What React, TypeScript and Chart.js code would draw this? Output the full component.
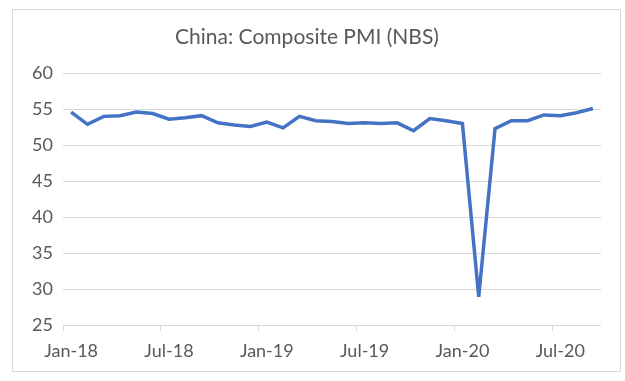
import React, { useEffect, useRef } from "react";
import { Chart, registerables } from "chart.js";

Chart.register(...registerables);

const months = [
  "Jan-18","Feb-18","Mar-18","Apr-18","May-18","Jun-18","Jul-18","Aug-18","Sep-18","Oct-18","Nov-18","Dec-18",
  "Jan-19","Feb-19","Mar-19","Apr-19","May-19","Jun-19","Jul-19","Aug-19","Sep-19","Oct-19","Nov-19","Dec-19",
  "Jan-20","Feb-20","Mar-20","Apr-20","May-20","Jun-20","Jul-20","Aug-20","Sep-20",
];
const compositePMI = [
  54.6, 52.9, 54.0, 54.1, 54.6, 54.4, 53.6, 53.8, 54.1, 53.1, 52.8, 52.6,
  53.2, 52.4, 54.0, 53.4, 53.3, 53.0, 53.1, 53.0, 53.1, 52.0, 53.7, 53.4,
  53.0, 28.9, 52.3, 53.4, 53.4, 54.2, 54.1, 54.5, 55.1,
];
const yTicks = [25, 30, 35, 40, 45, 50, 55, 60];
const titleText = "China: Composite PMI (NBS)";

export default function App() {
  const ref = useRef<HTMLCanvasElement>(null);
  useEffect(() => {
    if (!ref.current) return;
    const fontFamily = "Lato, 'Open Sans', sans-serif";
    const chart = new Chart(ref.current, {
      type: "line",
      data: {
        labels: months,
        datasets: [
          {
            data: compositePMI,
            borderColor: "#4472C4",
            borderWidth: 3.5,
            pointRadius: 0,
            tension: 0,
            fill: false,
          },
        ],
      },
      options: {
        responsive: false,
        animation: false,
        layout: { padding: { left: 0, right: 19, top: 0, bottom: 0 } },
        plugins: {
          legend: { display: false },
          tooltip: { enabled: false },
          title: {
            display: true,
            text: titleText,
            color: "#595959",
            font: { family: fontFamily, size: 21, weight: "normal" },
            padding: { top: 15, bottom: 23 },
          },
        },
        scales: {
          x: {
            offset: true,
            grid: {
              offset: true,
              drawOnChartArea: false,
              drawTicks: true,
              tickLength: 6,
              color: (ctx: any) => (ctx.index !== undefined && ctx.index % 6 === 0 && ctx.index < months.length ? "#d9d9d9" : "rgba(0,0,0,0)"),
            },
            border: { display: false },
            ticks: {
              autoSkip: false,
              maxRotation: 0,
              padding: 9,
              color: "#595959",
              font: { family: fontFamily, size: 18 },
              callback: (_v: any, i: number) => (i % 6 === 0 ? months[i] : ""),
            },
            afterFit: (s: any) => {
              s.height = 46;
            },
          },
          y: {
            min: 25,
            max: 60,
            afterBuildTicks: (s: any) => {
              s.ticks = yTicks.map((v) => ({ value: v }));
            },
            grid: { color: "#d9d9d9", drawTicks: false, lineWidth: 1 },
            border: { display: false },
            ticks: {
              padding: 10,
              color: "#595959",
              font: { family: fontFamily, size: 18 },
            },
            afterFit: (s: any) => {
              s.width = 50;
            },
          },
        },
      },
    });
    return () => chart.destroy();
  }, []);
  return (
    <div
      style={{
        position: "absolute",
        left: 12,
        top: 9,
        width: 607,
        height: 361,
        border: "1px solid #d9d9d9",
        background: "#fff",
      }}
    >
      <canvas ref={ref} width={607} height={361} style={{ display: "block" }} />
    </div>
  );
}
